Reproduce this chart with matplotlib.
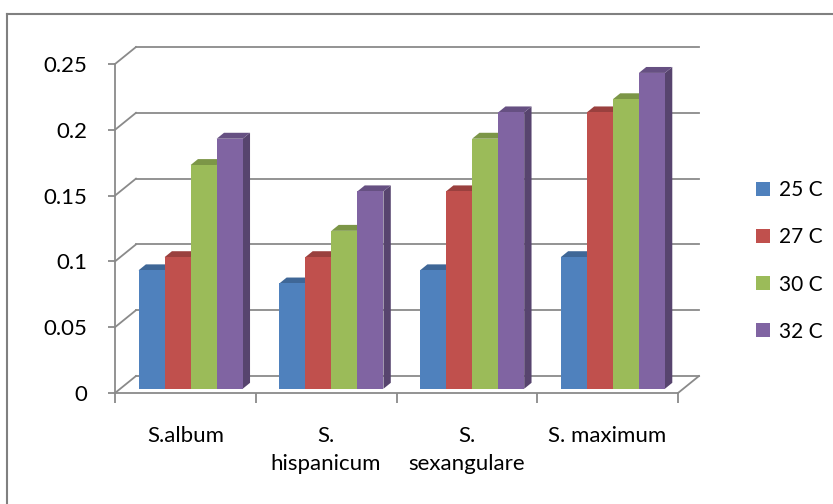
import numpy as np
import matplotlib.pyplot as plt
from matplotlib.patches import Polygon, Patch
from matplotlib.lines import Line2D
from matplotlib.colors import to_rgb

# germination rate per species at each temperature
species = ['S.album', 'S.\nhispanicum', 'S.\nsexangulare', 'S. maximum']
temps = ['25 C', '27 C', '30 C', '32 C']
t25 = [0.09, 0.08, 0.09, 0.10]
t27 = [0.10, 0.10, 0.15, 0.21]
t30 = [0.17, 0.12, 0.19, 0.22]
t32 = [0.19, 0.15, 0.21, 0.24]
series = [t25, t27, t30, t32]
colors = ['#4F81BD', '#C0504D', '#9BBB59', '#8064A2']
yticks = [0, 0.05, 0.1, 0.15, 0.2, 0.25]
ylabels = ['0', '0.05', '0.1', '0.15', '0.2', '0.25']

plt.rcParams['font.family'] = ['Lato', 'DejaVu Sans']
FS = 16
GRID = '#8a8a8a'

fig = plt.figure(figsize=(8.33, 5.04), dpi=100)
ax = fig.add_axes([115 / 833, 111 / 504, 563 / 833, 329 / 504])
ax.set_xlim(0, 4)
ax.set_ylim(0, 0.25)

# fake 3d: depth of the back wall and the slab the columns occupy
DX, DY = 0.149, 0.0129
f0, f1 = 0.25, 0.60
bw = 0.185


def shade(c, k):
    return tuple(v * k for v in to_rgb(c))


# back wall gridlines with their diagonal links to the front axis
for v in yticks:
    ax.plot([0, DX], [v, v + DY], color=GRID, lw=1.3, clip_on=False, zorder=1)
    ax.plot([DX, 4 + DX], [v + DY, v + DY], color=GRID, lw=1.3,
            clip_on=False, zorder=1)
# floor right edge
ax.plot([4, 4 + DX], [0, DY], color=GRID, lw=1.3, clip_on=False, zorder=1)

x0 = np.arange(len(species)) + 0.5 - 2 * bw
for i, (vals, c) in enumerate(zip(series, colors)):
    xs = x0 + i * bw
    z = 3 + i * 0.1
    for x, v in zip(xs, vals):
        xr = x + bw
        side = [(xr + f0 * DX, f0 * DY), (xr + f1 * DX, f1 * DY),
                (xr + f1 * DX, v + f1 * DY), (xr + f0 * DX, v + f0 * DY)]
        top = [(x + f0 * DX, v + f0 * DY), (xr + f0 * DX, v + f0 * DY),
               (xr + f1 * DX, v + f1 * DY), (x + f1 * DX, v + f1 * DY)]
        ax.add_patch(Polygon(side, closed=True, fc=shade(c, 0.68), ec='none',
                             zorder=z, clip_on=False))
        ax.add_patch(Polygon(top, closed=True, fc=shade(c, 0.8), ec='none',
                             zorder=z, clip_on=False))
    ax.bar(xs + f0 * DX, vals, width=bw, bottom=f0 * DY, align='edge',
           color=c, zorder=z + 0.05, clip_on=False)

for s in ['top', 'right']:
    ax.spines[s].set_visible(False)
for s in ['left', 'bottom']:
    ax.spines[s].set_color(GRID)
    ax.spines[s].set_linewidth(1.3)
ax.set_facecolor('none')

ax.set_yticks(yticks)
ax.set_yticklabels(ylabels, fontsize=FS)
ax.tick_params(axis='y', direction='out', length=5, width=1.3, color=GRID,
               pad=15)
ax.set_xticks(range(5))
ax.set_xticklabels([])
ax.tick_params(axis='x', which='major', direction='out', length=7,
               width=1.3, color=GRID)
ax.set_xticks(np.arange(4) + 0.5, minor=True)
ax.set_xticklabels(species, minor=True, fontsize=FS, linespacing=1.5,
                   va='top')
ax.tick_params(axis='x', which='minor', length=0, pad=24)

handles = [Patch(fc=c, ec='none') for c in colors]
fig.legend(handles, temps, loc='center left',
           bbox_to_anchor=(748 / 833, 1 - 261 / 504), frameon=False,
           fontsize=15, handlelength=0.66, handleheight=0.66,
           handletextpad=0.42, labelspacing=1.3, borderaxespad=0)

# outer chart frame (top and left edges)
fig.add_artist(Line2D([7 / 833, 1], [1 - 14 / 504] * 2, color='#808080',
                      lw=1.5))
fig.add_artist(Line2D([7 / 833] * 2, [0, 1 - 14 / 504], color='#808080',
                      lw=1.5))

fig.savefig('out.png', dpi=100)
